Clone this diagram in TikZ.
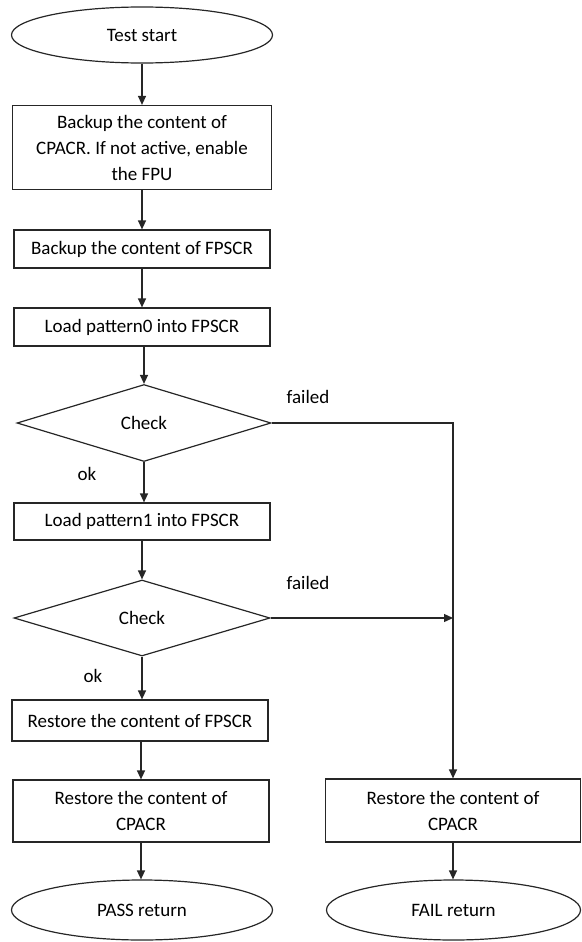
\documentclass[tikz,border=0pt]{standalone}
\usepackage{fontspec}
\setmainfont{Carlito}
\usetikzlibrary{shapes.geometric,arrows.meta}
\begin{document}
\begin{tikzpicture}[x=1pt,y=-1pt,
  every node/.style={font=\fontsize{19}{26}\selectfont},
  base/.style={draw=black!85,line width=1.2pt,inner sep=0pt,align=center},
  box/.style={base,rectangle},
  term/.style={base,ellipse},
  dec/.style={base,diamond},
  lbl/.style={inner sep=0pt},
  arr/.style={draw=black!85,line width=1.3pt,-{Triangle[width=8pt,length=9pt]}}]
\useasboundingbox (0,0) rectangle (581,942);
\node[term,minimum width=261pt,minimum height=56pt] (start) at (142,35) {Test start};
\node[box,minimum width=259pt,minimum height=84pt] (b1) at (142,147.5) {Backup the content of\\CPACR. If not active, enable\\the FPU};
\node[box,minimum width=256pt,minimum height=38pt] (b2) at (142,249) {Backup the content of FPSCR};
\node[box,minimum width=256pt,minimum height=38pt] (b3) at (142,327) {Load pattern0 into FPSCR};
\node[dec,minimum width=254pt,minimum height=77pt] (d1) at (144,423) {Check};
\node[box,minimum width=256pt,minimum height=37pt] (b4) at (142,521.5) {Load pattern1 into FPSCR};
\node[dec,minimum width=256pt,minimum height=76pt] (d2) at (142,618) {Check};
\node[box,minimum width=256pt,minimum height=41pt] (b5) at (140,720.5) {Restore the content of FPSCR};
\node[box,minimum width=256pt,minimum height=62pt] (b6) at (141,811) {Restore the content of\\CPACR};
\node[term,minimum width=261pt,minimum height=60pt] (pass) at (142,910) {PASS return};
\node[box,minimum width=255pt,minimum height=63pt] (b7) at (453,810.5) {Restore the content of\\CPACR};
\node[term,minimum width=254pt,minimum height=60pt] (fail) at (453.5,910) {FAIL return};
\node[lbl] (f1) at (308,397) {failed};
\node[lbl] (f2) at (308,583) {failed};
\node[lbl] (o1) at (87,474) {ok};
\node[lbl] (o2) at (93,676) {ok};
\draw[arr] (start) -- (b1);
\draw[arr] (b1) -- (b2);
\draw[arr] (b2) -- (b3);
\draw[arr] (b3.south -| d1) -- (d1.north);
\draw[arr] (d1.south) -- (d1.south |- b4.north);
\draw[arr] (b4) -- (d2);
\draw[arr] (d2) -- (d2 |- b5.north);
\draw[arr] (b5.south -| b6) -- (b6.north);
\draw[arr] (b6) -- (b6 |- pass.north);
\draw[arr] (d1.east) -| (b7.north);
\draw[arr] (d2.east) -- (d2.east -| b7.north);
\draw[arr] (b7) -- (b7 |- fail.north);
\end{tikzpicture}
\end{document}
